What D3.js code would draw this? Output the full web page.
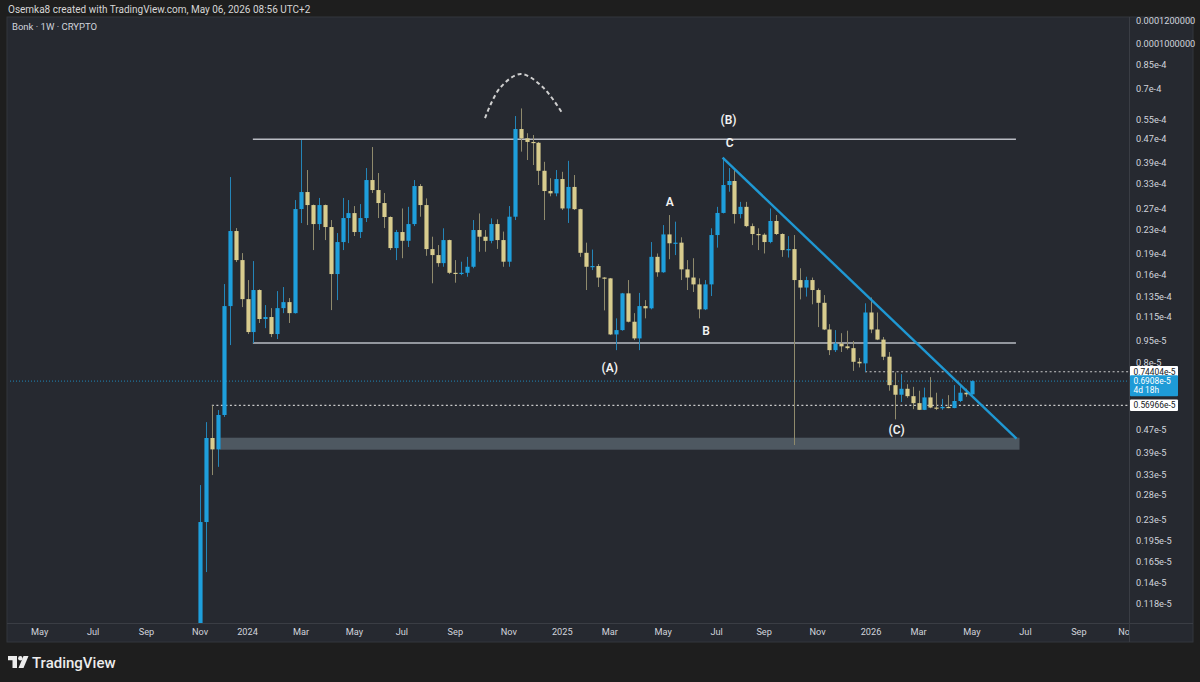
<!DOCTYPE html>
<html><head><meta charset="utf-8">
<script src="https://cdn.jsdelivr.net/npm/d3@7"></script>
<style>
html,body{margin:0;padding:0;background:#1e1e1e;}
svg{display:block;font-family:Roboto,"Liberation Sans","DejaVu Sans",sans-serif;}
</style></head><body>
<svg id="c" width="1200" height="682"></svg>
<script>
// ---- DATA (prices in units of 1e-5) ----
const firstWeek = "2023-11-06";
const opens = [0.08,0.226,0.440,0.402,0.528,1.252,2.270,1.803,1.323,1.019,1.422,1.130,1.148,1.003,1.232,1.292,1.184,2.702,3.092,2.789,2.399,2.789,2.343,1.614,2.080,2.516,2.617,2.252,2.516,3.401,3.142,2.834,2.537,1.983,2.252,2.101,2.399,3.243,2.789,1.967,1.876,1.760,2.113,1.630,1.620,1.630,1.710,2.288,2.170,2.100,2.399,2.113,1.780,2.543,5.096,4.733,4.600,4.570,3.660,3.117,3.060,3.428,2.715,3.220,2.700,1.910,1.710,1.720,1.570,1.560,1.000,1.035,1.385,1.106,0.969,1.252,1.230,1.850,1.637,2.210,2.060,2.070,1.675,1.570,1.487,1.220,1.487,2.199,2.620,3.269,3.375,2.597,2.750,2.360,2.217,2.205,2.080,2.458,2.217,1.952,1.967,1.539,1.450,1.539,1.422,1.285,1.040,0.883,0.930,0.910,0.897,0.805,0.795,1.190,1.040,0.960,0.838,0.669,0.620,0.650,0.613,0.580,0.550,0.607,0.560,0.557,0.563,0.558,0.590,0.630,0.622];
const highs = [0.303,0.499,0.570,0.549,1.491,3.483,2.324,1.906,1.539,1.789,1.430,1.262,1.232,1.410,1.456,1.334,2.902,4.670,3.682,2.800,2.951,2.800,2.477,2.234,2.951,2.902,2.767,2.811,3.740,4.418,3.595,3.068,2.550,2.290,2.715,2.750,3.401,3.295,2.940,2.170,2.031,2.320,2.120,1.803,1.780,1.850,2.477,2.610,2.288,2.510,2.490,2.260,2.767,5.649,6.000,4.930,4.859,4.600,3.930,3.450,3.682,3.630,3.960,3.539,2.710,2.070,1.960,1.747,1.575,1.565,1.136,1.390,1.539,1.184,1.390,1.313,2.080,1.900,2.380,2.577,2.445,2.160,1.803,1.830,1.560,1.539,2.320,2.750,4.060,3.740,3.682,2.860,2.860,2.410,2.320,2.230,2.715,2.577,2.230,2.180,2.199,1.690,1.580,1.570,1.440,1.366,1.085,1.035,1.010,1.030,0.950,0.830,1.280,1.340,1.190,0.980,0.870,0.740,0.730,0.674,0.660,0.640,0.656,0.713,0.630,0.600,0.618,0.669,0.669,0.650,0.695];
const lows = [0.08,0.152,0.328,0.350,0.520,0.919,1.775,1.242,1.003,0.934,1.095,1.051,0.979,0.964,1.184,1.095,1.180,2.418,2.380,1.952,2.288,2.113,1.213,1.313,1.952,2.063,2.182,2.148,2.438,3.068,2.516,2.324,1.952,1.803,1.830,2.000,2.361,2.543,1.865,1.500,1.710,1.710,1.614,1.507,1.600,1.580,1.690,1.926,1.926,2.060,1.970,1.710,1.710,2.477,4.260,3.986,3.831,3.269,2.477,2.990,2.990,2.681,2.420,2.681,1.850,1.422,1.666,1.456,1.210,0.995,0.883,1.030,1.100,0.956,0.883,1.136,1.220,1.580,1.630,1.815,1.876,1.539,1.422,1.400,1.136,1.213,1.356,1.990,2.610,3.100,2.410,2.510,2.340,2.031,1.952,1.900,2.060,2.199,1.850,1.840,0.416,1.320,1.350,1.270,1.060,1.035,0.849,0.870,0.870,0.887,0.749,0.770,0.744,1.010,0.956,0.816,0.640,0.510,0.585,0.605,0.553,0.549,0.549,0.557,0.549,0.550,0.557,0.557,0.585,0.610,0.620];
const closes = [0.226,0.440,0.402,0.528,1.252,2.270,1.803,1.323,1.019,1.422,1.130,1.148,1.003,1.232,1.292,1.184,2.702,3.092,2.789,2.399,2.789,2.343,1.614,2.080,2.516,2.617,2.252,2.516,3.401,3.142,2.834,2.537,1.983,2.252,2.101,2.399,3.243,2.789,1.967,1.876,1.760,2.113,1.630,1.620,1.630,1.710,2.288,2.170,2.100,2.399,2.113,1.780,2.543,5.096,4.733,4.600,4.570,3.660,3.117,3.060,3.428,2.715,3.220,2.700,1.910,1.710,1.720,1.570,1.560,1.000,1.035,1.385,1.106,0.969,1.252,1.230,1.850,1.637,2.210,2.060,2.070,1.675,1.570,1.487,1.220,1.487,2.199,2.620,3.269,3.375,2.597,2.750,2.360,2.217,2.205,2.080,2.458,2.217,1.952,1.967,1.539,1.450,1.539,1.422,1.285,1.040,0.883,0.930,0.910,0.897,0.805,0.795,1.190,1.040,0.960,0.838,0.669,0.620,0.650,0.613,0.580,0.550,0.607,0.560,0.557,0.563,0.558,0.590,0.630,0.622,0.6908];

const priceTicks = [12,10,8.5,7,5.5,4.7,3.9,3.3,2.7,2.3,1.9,1.6,1.35,1.15,0.95,0.8,0.47,0.39,0.33,0.28,0.23,0.195,0.165,0.14,0.118];
const priceTickLabels = ["0.0001200000","0.0001000000","0.85e-4","0.7e-4","0.55e-4","0.47e-4","0.39e-4","0.33e-4","0.27e-4","0.23e-4","0.19e-4","0.16e-4","0.135e-4","0.115e-4","0.95e-5","0.8e-5","0.47e-5","0.39e-5","0.33e-5","0.28e-5","0.23e-5","0.195e-5","0.165e-5","0.14e-5","0.118e-5"];
const timeTicks = ["2023-05-01","2023-07-03","2023-09-04","2023-11-06","2024-01-01","2024-03-04","2024-05-06","2024-07-01","2024-09-02","2024-11-04","2025-01-06","2025-03-03","2025-05-05","2025-07-07","2025-09-01","2025-11-03","2026-01-05","2026-03-02","2026-05-04","2026-07-06","2026-09-07","2026-11-02"];
const timeTickLabels = ["May","Jul","Sep","Nov","2024","Mar","May","Jul","Sep","Nov","2025","Mar","May","Jul","Sep","Nov","2026","Mar","May","Jul","Sep","Nov"];

// drawings (bar index, price)
const rangeTop = 4.7, rangeBottom = 0.934, rangeFromBar = 8.9, rangeToBar = 137.4;
const zoneTop = 0.441, zoneBottom = 0.401, zoneFromBar = 3.4, zoneToBar = 138;
const trendStart = [88, 4.06], trendEnd = [137.5, 0.438];
const level1 = 0.74404, level1FromBar = 112;
const level2 = 0.56966, level2FromBar = 2;
const lastPrice = 0.6908;
const arcPoints = [[48,5.56],[50.5,7.05],[54,7.88],[57.7,7.11],[61.1,5.74]];
const waveLabels = [["(A)",69,0.766],["A",79.1,2.857],["B",85.2,1.03],["(B)",89,5.5],["C",89.2,4.58],["(C)",117.3,0.468]];

// ---- LAYOUT ----
const W=1200,H=682;
const paneL=7, paneT=17, plotR=1129, plotB=623, paneR=1193, paneB=642;
const svg=d3.select("#c");
const parse=d3.utcParse("%Y-%m-%d");
const t0=parse(firstWeek);
const barDate=k=>new Date(t0.getTime()+k*7*864e5);
const x=d3.scaleUtc().domain([t0,barDate(130)]).range([200,972]);
const xb=k=>x(barDate(k));
const y=d3.scaleLog().domain([0.118,12]).range([604,21]);

svg.append("rect").attr("width",W).attr("height",H).attr("fill","#1e1e1e");
svg.append("text").attr("x",8).attr("y",12.5).attr("font-size",10).attr("fill","#d6d6d6")
  .text("Osemka8 created with TradingView.com, May 06, 2026 08:56 UTC+2");
svg.append("rect").attr("x",paneL).attr("y",paneT).attr("width",paneR-paneL).attr("height",paneB-paneT)
  .attr("fill","#262930").attr("stroke","#33363d");
svg.append("line").attr("x1",paneL).attr("x2",paneR).attr("y1",plotB+0.5).attr("y2",plotB+0.5).attr("stroke","#3a3d44");
svg.append("line").attr("x1",plotR+0.5).attr("x2",plotR+0.5).attr("y1",paneT).attr("y2",paneB).attr("stroke","#3a3d44");

const defs=svg.append("defs");
defs.append("clipPath").attr("id","plot").append("rect").attr("x",paneL+1).attr("y",paneT+1).attr("width",plotR-paneL-1).attr("height",plotB-paneT-1);
defs.append("clipPath").attr("id","taxis").append("rect").attr("x",paneL).attr("y",plotB).attr("width",plotR-paneL).attr("height",paneB-plotB);

const g=svg.append("g").attr("clip-path","url(#plot)");

svg.append("text").attr("x",12).attr("y",30).attr("font-size",9.5).attr("fill","#d1d4dc").text("Bonk · 1W · CRYPTO");

// zone
g.append("rect").attr("x",xb(zoneFromBar)).attr("width",xb(zoneToBar)-xb(zoneFromBar))
 .attr("y",y(zoneTop)).attr("height",y(zoneBottom)-y(zoneTop)).attr("fill","#56606a").attr("opacity",0.85);

// current price line
g.append("line").attr("x1",paneL).attr("x2",plotR).attr("y1",y(lastPrice)).attr("y2",y(lastPrice))
 .attr("stroke","#1e9fdc").attr("stroke-width",1).attr("stroke-dasharray","1,2").attr("opacity",0.8);
// dotted levels
[[level1,level1FromBar],[level2,level2FromBar]].forEach(([p,b])=>{
  g.append("line").attr("x1",xb(b)).attr("x2",plotR).attr("y1",y(p)).attr("y2",y(p))
   .attr("stroke","#c9c9c9").attr("stroke-width",1.2).attr("stroke-dasharray","2,2.5");
});
// range lines
[rangeTop,rangeBottom].forEach(p=>{
  g.append("line").attr("x1",xb(rangeFromBar)).attr("x2",xb(rangeToBar)).attr("y1",y(p)).attr("y2",y(p))
   .attr("stroke","#b9bcc3").attr("stroke-width",1.4);
});

// candles
const bars=opens.map((o,i)=>({i,o,h:highs[i],l:lows[i],c:closes[i]}));
const step=xb(1)-xb(0), bw=step*0.7;
const upB="#1e9fdc", dnB="#d8cc8e", upW="#2485b8", dnW="#8f8a6c";
g.selectAll("line.wick").data(bars).join("line").attr("class","wick")
 .attr("x1",d=>Math.round(xb(d.i))+0.5).attr("x2",d=>Math.round(xb(d.i))+0.5)
 .attr("y1",d=>y(d.h)).attr("y2",d=>y(d.l))
 .attr("stroke",d=>d.c>=d.o?upW:dnW).attr("stroke-width",1);
g.selectAll("rect.body").data(bars).join("rect").attr("class","body")
 .attr("x",d=>Math.round(xb(d.i))+0.5-bw/2).attr("width",bw)
 .attr("y",d=>y(Math.max(d.o,d.c)))
 .attr("height",d=>Math.max(1.2,Math.abs(y(d.o)-y(d.c))))
 .attr("fill",d=>d.c>=d.o?upB:dnB);

// trend line
g.append("line").attr("x1",xb(trendStart[0])).attr("y1",y(trendStart[1]))
 .attr("x2",xb(trendEnd[0])).attr("y2",y(trendEnd[1]))
 .attr("stroke","#1f98d3").attr("stroke-width",2.4);

// arc
g.append("path").attr("d",d3.line().x(d=>xb(d[0])).y(d=>y(d[1])).curve(d3.curveCatmullRom)(arcPoints))
 .attr("fill","none").attr("stroke","#cfcfcf").attr("stroke-width",2).attr("stroke-dasharray","4,3");

// wave labels
g.selectAll("text.wl").data(waveLabels).join("text").attr("class","wl")
 .attr("x",d=>xb(d[1])).attr("y",d=>y(d[2])).attr("dy","0.35em").attr("text-anchor","middle")
 .attr("font-size",12).attr("font-weight",600).attr("fill","#f2f2f2").text(d=>d[0]);

// price axis
svg.selectAll("text.pt").data(priceTicks).join("text").attr("class","pt")
 .attr("x",1136).attr("y",d=>y(d)).attr("dy","0.35em").attr("font-size",9.2).attr("fill","#d1d4dc")
 .text((d,i)=>priceTickLabels[i]);

function priceBox(p,label,bg,fg,sub){
  const yc=y(p), h=sub?21:11.5;
  svg.append("rect").attr("x",1130).attr("y",yc-5.8).attr("width",48).attr("height",h).attr("fill",bg).attr("rx",1);
  svg.append("text").attr("x",1133.5).attr("y",yc).attr("dy","0.34em").attr("font-size",8.4).attr("fill",fg).text(label);
  if(sub) svg.append("text").attr("x",1133.5).attr("y",yc+9.2).attr("dy","0.34em").attr("font-size",8.4).attr("fill",fg).text(sub);
}
priceBox(level1,"0.74404e-5","#ffffff","#131722");
priceBox(lastPrice,"0.6908e-5","#1e9bd7","#ffffff","4d 18h");
priceBox(level2,"0.56966e-5","#ffffff","#131722");

// time axis
svg.append("g").attr("clip-path","url(#taxis)").selectAll("text").data(timeTicks).join("text")
 .attr("x",d=>x(parse(d))).attr("y",632).attr("dy","0.35em").attr("text-anchor","middle")
 .attr("font-size",9.2).attr("fill","#d1d4dc").text((d,i)=>timeTickLabels[i]);

// footer logo
const lg=svg.append("g").attr("transform","translate(8,656)").attr("fill","#ececec");
lg.append("path").attr("d","M0 0 H9 V12 H4.5 V4.3 H0 Z");
lg.append("circle").attr("cx",12.3).attr("cy",2.2).attr("r",2.2);
lg.append("path").attr("d","M15.5 0 H20.5 L15.5 12 H10.5 Z");
svg.append("text").attr("x",32).attr("y",668).attr("font-size",15).attr("font-weight",500).attr("fill","#ececec").text("TradingView");
</script>
</body></html>
